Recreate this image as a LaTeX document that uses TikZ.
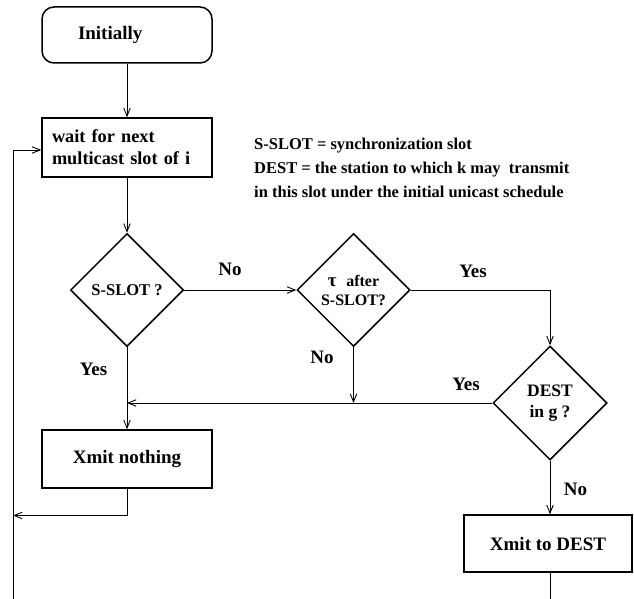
\documentclass[tikz,border=0pt]{standalone}
\usepackage{fontspec}
\setmainfont{Liberation Serif}
\usetikzlibrary{shapes.geometric,arrows.meta}

\begin{document}
\begin{tikzpicture}[x=1pt,y=-1pt,
  box/.style={draw, line width=1.5pt, minimum width=170pt, minimum height=58pt,
    inner sep=0pt, font=\bfseries\fontsize{19}{22}\selectfont},
  rbox/.style={box, rounded corners=12pt},
  decision/.style={draw, diamond, line width=1.5pt, minimum width=113pt,
    minimum height=113pt, inner sep=0pt, align=center,
    font=\bfseries\fontsize{16.5}{19}\selectfont},
  flow/.style={line width=0.9pt, -{Straight Barb[length=8pt,width=6.5pt]}},
  link/.style={line width=0.9pt},
  lbl/.style={inner sep=0pt, font=\bfseries\fontsize{19}{22}\selectfont},
  legend/.style={inner sep=0pt, align=left,
    font=\bfseries\fontsize{16.5}{24}\selectfont}]

  \useasboundingbox (0,0) rectangle (634,599);

  % process boxes
  \node[rbox, minimum height=56pt, text width=98pt, align=left] (init) at (127,35) {Initially};
  \node[box, minimum height=59pt, text width=150pt, align=left,
        font=\bfseries\fontsize{18.3}{22}\selectfont] (wait) at (127,147.5)
        {wait for next\\multicast slot of i};
  \node[box] (xn) at (127,459) {Xmit nothing};
  \node[box, minimum width=168pt, minimum height=57pt] (xd) at (548,543.5) {Xmit to DEST};

  % decisions
  \node[decision] (ss) at (127,290) {S-SLOT ?};
  \node[decision, font=\bfseries\fontsize{16}{19}\selectfont] (tau) at (353.5,290)
        {{\fontsize{19}{19}\selectfont τ}\hspace{0.6em}after\\S-SLOT?};
  \node[decision, minimum width=114pt, minimum height=114pt,
        font=\bfseries\fontsize{17.5}{21}\selectfont] (dest) at (550,403)
        {DEST\\in g ?};

  % helper points
  \coordinate (jn) at (ss.south |- dest.west);
  \coordinate (xnturn) at (127,515.5);
  \coordinate (lb) at (13,600);
  \coordinate (lt) at (13,150);
  \coordinate (xdend) at (550,600);

  % connectors
  \draw[flow] (init) -- (wait);
  \draw[flow] (wait) -- (ss);
  \draw[flow] (ss.east) -- (tau.west);
  \draw[flow] (tau.east) -| (dest.north);
  \draw[flow] (tau.south) -- (tau.south |- jn);
  \draw[flow] (dest.west) -- (jn);
  \draw[flow] (ss.south) -- (xn.north);
  \draw[flow] (dest.south) -- (dest.south |- xd.north);
  \draw[link] (dest.south |- xd.south) -- (xdend);
  \draw[flow] (xn.south) -- (xnturn) -- (xnturn -| lb);
  \draw[flow] (lb) -- (lt) -- (lt -| wait.west);

  % branch labels
  \node[lbl] (noA) at (230,269) {No};
  \node[lbl] (yesA) at (93.5,369) {Yes};
  \node[lbl] (yesB) at (473,271) {Yes};
  \node[lbl] (noB) at (322,357) {No};
  \node[lbl] (yesC) at (466,384) {Yes};
  \node[lbl] (noC) at (575.5,489) {No};

  % legend
  \node[legend, anchor=north west] (key) at (254,138)
    {S-SLOT = synchronization slot\\
     DEST = the station to which k may\ \ transmit\\
     in this slot under the initial unicast schedule};
\end{tikzpicture}
\end{document}
